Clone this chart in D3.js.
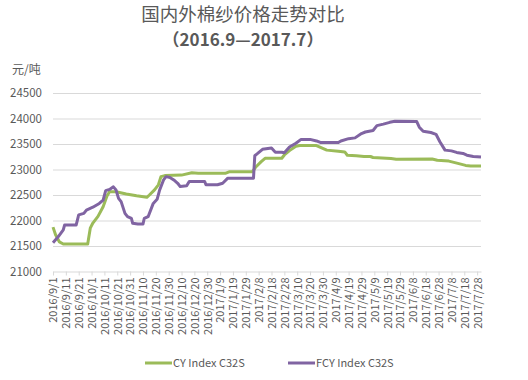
<!DOCTYPE html>
<html><head><meta charset="utf-8">
<script src="https://cdn.jsdelivr.net/npm/d3@7"></script>
<style>html,body{margin:0;padding:0;background:#fff;}svg{display:block;}</style>
</head><body>
<svg id="chart" width="528" height="380"></svg>
<script>
const titleLines = ["国内外棉纱价格走势对比", "（2016.9—2017.7）"];
const unitLabel = "元/吨";
const seriesNames = ["CY Index C32S", "FCY Index C32S"];
const yTicks = [21000, 21500, 22000, 22500, 23000, 23500, 24000, 24500];

const cyDates = ["2016-09-01","2016-09-03","2016-09-06","2016-09-09","2016-09-26","2016-09-28","2016-09-30","2016-10-02","2016-10-06","2016-10-10","2016-10-13","2016-10-15","2016-10-20","2016-10-28","2016-11-05","2016-11-13","2016-11-15","2016-11-19","2016-11-22","2016-11-24","2016-11-27","2016-12-10","2016-12-18","2016-12-23","2017-01-13","2017-01-16","2017-02-03","2017-02-06","2017-02-10","2017-02-13","2017-02-26","2017-02-28","2017-03-04","2017-03-09","2017-03-12","2017-03-25","2017-03-29","2017-04-02","2017-04-11","2017-04-16","2017-04-18","2017-04-25","2017-05-01","2017-05-06","2017-05-08","2017-05-22","2017-05-26","2017-06-23","2017-06-27","2017-07-06","2017-07-13","2017-07-19","2017-07-23","2017-07-31"];
const cyValues = [21870,21720,21580,21540,21540,21540,21850,21950,22080,22270,22480,22565,22565,22520,22485,22455,22500,22600,22700,22860,22880,22890,22935,22925,22925,22955,22955,23055,23155,23220,23220,23285,23370,23455,23470,23470,23425,23380,23360,23345,23280,23270,23255,23255,23235,23215,23200,23205,23180,23165,23120,23080,23070,23070];

const fcyDates = ["2016-09-01","2016-09-05","2016-09-09","2016-09-10","2016-09-19","2016-09-21","2016-09-25","2016-09-27","2016-10-02","2016-10-07","2016-10-10","2016-10-12","2016-10-15","2016-10-18","2016-10-20","2016-10-22","2016-10-24","2016-10-27","2016-10-29","2016-11-01","2016-11-02","2016-11-06","2016-11-10","2016-11-11","2016-11-14","2016-11-18","2016-11-21","2016-11-23","2016-11-26","2016-11-28","2016-12-01","2016-12-04","2016-12-07","2016-12-09","2016-12-14","2016-12-16","2016-12-28","2016-12-29","2017-01-07","2017-01-11","2017-01-15","2017-02-04","2017-02-05","2017-02-07","2017-02-11","2017-02-18","2017-02-21","2017-02-26","2017-02-28","2017-03-04","2017-03-09","2017-03-13","2017-03-20","2017-03-25","2017-03-28","2017-04-11","2017-04-13","2017-04-19","2017-04-24","2017-04-29","2017-05-02","2017-05-08","2017-05-11","2017-05-16","2017-05-21","2017-05-25","2017-06-11","2017-06-13","2017-06-16","2017-06-22","2017-06-26","2017-06-29","2017-07-03","2017-07-08","2017-07-12","2017-07-17","2017-07-20","2017-07-25","2017-07-31"];
const fcyValues = [21565,21680,21815,21910,21910,22110,22140,22205,22260,22335,22400,22585,22610,22660,22600,22435,22370,22140,22075,22040,21945,21930,21930,22040,22075,22335,22415,22600,22795,22860,22845,22795,22730,22665,22680,22765,22765,22700,22700,22730,22830,22830,23270,23310,23395,23420,23340,23340,23330,23440,23515,23590,23590,23560,23530,23530,23560,23605,23620,23705,23735,23765,23860,23890,23925,23945,23940,23830,23750,23725,23690,23545,23380,23365,23335,23315,23280,23255,23245];

const tickStart = "2016-09-01", tickEnd = "2017-07-28", tickStepDays = 10;
const domainStart = "2016-09-01", domainEnd = "2017-07-31";

const colors = ["#9bbb59", "#8064a2"];
const parse = d3.timeParse("%Y-%m-%d");
const fmt = d3.timeFormat("%Y/%-m/%-d");

const svg = d3.select("#chart");
const mLeft = 53, mRight = 481, mTop = 93, mBottom = 271.5;
const x = d3.scaleTime().domain([parse(domainStart), parse(domainEnd)]).range([mLeft, mRight]);
const y = d3.scaleLinear().domain([21000, 24500]).range([mBottom, mTop]);

const gray = "#595959";
const font = "'Microsoft YaHei','Noto Sans CJK SC','Liberation Sans',sans-serif";

// title
svg.append("text").attr("x", 243).attr("y", 21).attr("text-anchor", "middle")
  .attr("font-family", font).attr("font-size", 18.5).attr("fill", gray).text(titleLines[0]);
svg.append("text").attr("x", 243).attr("y", 46).attr("text-anchor", "middle")
  .attr("font-family", font).attr("font-size", 17).attr("font-weight", "bold").attr("fill", gray).text(titleLines[1]);

// unit
svg.append("text").attr("x", 12).attr("y", 74).attr("font-family", font).attr("font-size", 12)
  .attr("fill", gray).text(unitLabel);

// gridlines + y labels
const yAxis = d3.axisLeft(y).tickValues(yTicks).tickSize(-(mRight - mLeft)).tickPadding(11).tickFormat(d3.format("d"));
const gy = svg.append("g").attr("transform", `translate(${mLeft},0)`).call(yAxis);
gy.select(".domain").remove();
gy.selectAll(".tick line").attr("stroke", "#d9d9d9").attr("stroke-width", 1)
  .filter(d => d === 21000).remove();
gy.selectAll(".tick text").attr("font-family", font).attr("font-size", 11.5).attr("fill", gray);

// x axis
const tickVals = d3.timeDay.every(1).range(parse(tickStart), d3.timeDay.offset(parse(tickEnd), 1))
  .filter((d, i) => i % tickStepDays === 0);
const xAxis = d3.axisBottom(x).tickValues(tickVals).tickFormat(fmt).tickSize(4).tickSizeOuter(0);
const gx = svg.append("g").attr("transform", `translate(0,${mBottom})`).call(xAxis);
gx.select(".domain").attr("stroke", "#d9d9d9");
gx.selectAll(".tick line").attr("stroke", "#d9d9d9");
gx.selectAll(".tick text").attr("font-family", font).attr("font-size", 11).attr("fill", gray)
  .attr("text-anchor", "end").attr("transform", "rotate(-90)").attr("x", -6).attr("y", 0).attr("dy", "0.35em");

// lines
const series = [
  {dates: cyDates, values: cyValues},
  {dates: fcyDates, values: fcyValues}
];
const line = d3.line().x(d => x(d[0])).y(d => y(d[1]));
series.forEach((s, i) => {
  const pts = s.dates.map((d, j) => [parse(d), s.values[j]]);
  svg.append("path").datum(pts).attr("d", line).attr("fill", "none")
    .attr("stroke", colors[i]).attr("stroke-width", 3).attr("stroke-linejoin", "round");
});

// legend
const legendX = [145, 288];
seriesNames.forEach((n, i) => {
  svg.append("line").attr("x1", legendX[i]).attr("x2", legendX[i] + 27).attr("y1", 363).attr("y2", 363)
    .attr("stroke", colors[i]).attr("stroke-width", 3);
  svg.append("text").attr("x", legendX[i] + 28).attr("y", 367).attr("font-family", font)
    .attr("font-size", 11).attr("fill", gray).text(n);
});
</script>
</body></html>
